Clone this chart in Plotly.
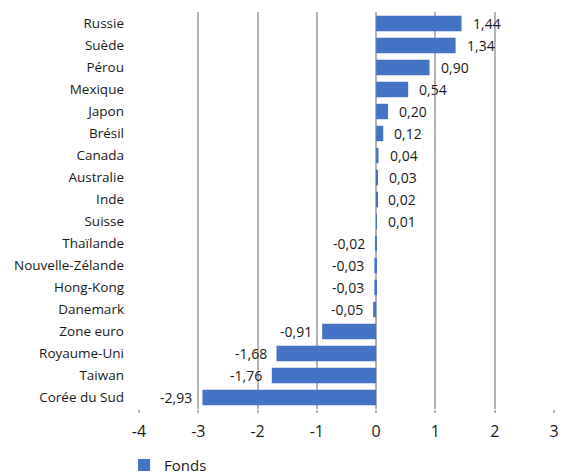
import plotly.graph_objects as go

countries = ["Russie", "Suède", "Pérou", "Mexique", "Japon", "Brésil", "Canada",
             "Australie", "Inde", "Suisse", "Thaïlande", "Nouvelle-Zélande",
             "Hong-Kong", "Danemark", "Zone euro", "Royaume-Uni", "Taiwan",
             "Corée du Sud"]
values = [1.44, 1.34, 0.90, 0.54, 0.20, 0.12, 0.04, 0.03, 0.02, 0.01,
          -0.02, -0.03, -0.03, -0.05, -0.91, -1.68, -1.76, -2.93]
series_name = "Fonds"
tick_vals = [-4, -3, -2, -1, 0, 1, 2, 3]

BLUE = "#4472C4"
FONT = "Open Sans"

fig = go.Figure()
fig.add_trace(go.Bar(
    x=values, y=countries, orientation="h", name=series_name,
    marker=dict(color=BLUE, line=dict(width=0)),
    showlegend=True,
))

for c, v in zip(countries, values):
    label = f"{v:.2f}".replace(".", ",")
    fig.add_annotation(
        x=v, y=c, text=label, showarrow=False,
        xanchor="left" if v >= 0 else "right",
        xshift=9 if v >= 0 else -8,
        font=dict(family=FONT, size=14, color="#1a1a1a"),
    )

fig.update_layout(
    width=577, height=475,
    margin=dict(l=139, r=23, t=12, b=66, autoexpand=False),
    plot_bgcolor="white", paper_bgcolor="white",
    bargap=0.3,
    font=dict(family=FONT, color="#1a1a1a"),
    xaxis=dict(
        range=[-4, 3], tickvals=tick_vals, ticktext=[str(t) for t in tick_vals],
        showgrid=True, gridcolor="#B4B4B4", gridwidth=1.5,
        zeroline=False, showline=False,
        ticks="outside", ticklen=3, tickcolor="#B4B4B4", tickwidth=1.5,
        ticklabelstandoff=5,
        tickfont=dict(family=FONT, size=16, color="#1a1a1a"),
        fixedrange=True,
    ),
    yaxis=dict(
        autorange="reversed", showgrid=False, zeroline=False, showline=False,
        ticks="", ticklabelstandoff=14,
        tickfont=dict(family=FONT, size=13.5, color="#1a1a1a"),
    ),
    legend=dict(
        orientation="h", x=-0.036, xanchor="left", y=-0.142, yanchor="middle",
        font=dict(family=FONT, size=15, color="#1a1a1a"),
    ),
)

fig.write_html("out.html")
